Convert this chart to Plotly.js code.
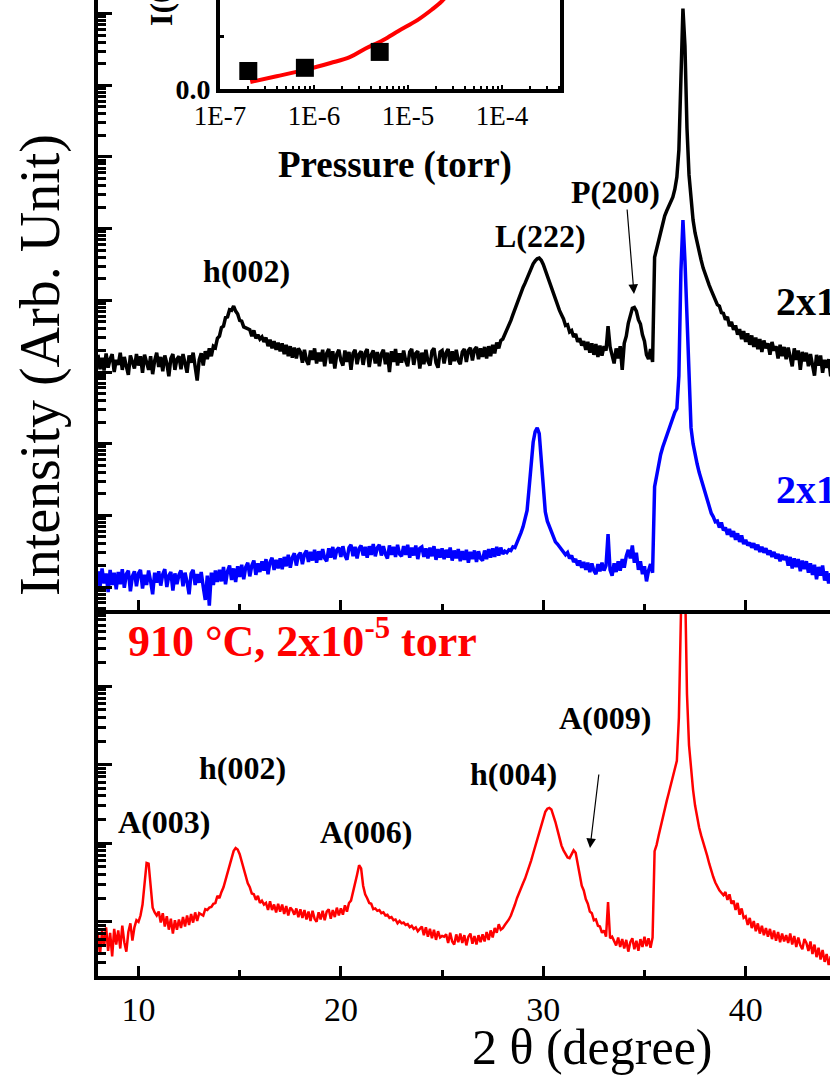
<!DOCTYPE html>
<html><head><meta charset="utf-8">
<script src="https://cdn.plot.ly/plotly-3.0.1.min.js"></script>
<style>html,body{margin:0;padding:0;background:#fff;overflow:hidden}#chart{width:830px;height:1075px}</style>
</head><body><div id="chart"></div><script>
// ---- XRD scans: 2theta grid start / step (degrees) ----
const scanStart = 8.0;
const scanStep = 0.1;

// log10 intensity (arb.), black scan (top panel)
const black_log10I = [
4.24,4.04,4.20,4.02,4.26,4.06,4.18,4.25,4.00,4.17,
4.10,4.27,4.03,4.21,4.08,3.96,4.23,4.12,4.05,4.25,
4.09,4.22,3.99,4.24,4.11,4.03,4.22,3.97,4.16,4.27,
4.07,4.21,4.01,4.23,4.12,3.94,4.19,4.25,4.03,4.18,
4.22,4.04,4.25,4.10,3.99,4.23,4.13,4.27,4.06,3.88,
4.17,4.26,4.09,4.29,4.18,4.33,4.22,4.36,4.34,4.47,
4.50,4.62,4.64,4.76,4.77,4.87,4.86,4.92,4.85,4.81,
4.72,4.71,4.63,4.62,4.60,4.59,4.50,4.58,4.47,4.52,
4.46,4.49,4.42,4.48,4.36,4.45,4.33,4.43,4.31,4.41,
4.29,4.40,4.25,4.38,4.22,4.36,4.20,4.34,4.19,4.33,
4.28,4.13,4.31,4.16,4.10,4.30,4.17,4.33,4.12,4.27,
4.15,4.31,4.08,4.26,4.32,4.12,4.29,4.05,4.25,4.31,
4.16,4.09,4.30,4.14,4.28,4.03,4.26,4.31,4.11,4.25,
4.29,4.10,4.27,4.32,4.07,4.24,4.30,4.12,4.28,4.08,
4.25,4.31,4.11,4.27,4.00,4.29,4.14,4.32,4.09,4.26,
4.13,4.30,4.16,4.08,4.28,4.32,4.10,4.26,4.29,4.05,
4.27,4.11,4.31,4.15,4.09,4.29,4.33,4.13,4.06,4.28,
4.30,4.12,4.27,4.32,4.10,4.29,4.15,4.31,4.16,4.11,
4.28,4.32,4.14,4.30,4.34,4.16,4.31,4.35,4.18,4.33,
4.21,4.35,4.19,4.36,4.22,4.38,4.26,4.41,4.33,4.44,
4.46,4.52,4.58,4.65,4.72,4.80,4.88,4.96,5.04,5.11,
5.18,5.24,5.31,5.38,5.45,5.51,5.55,5.58,5.59,5.56,
5.50,5.42,5.34,5.25,5.16,5.07,4.99,4.92,4.86,4.80,
4.74,4.65,4.66,4.56,4.58,4.49,4.53,4.42,4.47,4.37,
4.43,4.31,4.42,4.27,4.40,4.24,4.39,4.21,4.37,4.23,
4.36,4.30,4.64,4.35,4.22,4.12,4.33,4.19,4.36,4.03,
4.40,4.50,4.68,4.79,4.89,4.90,4.85,4.73,4.67,4.52,
4.43,4.24,4.18,4.32,4.14,5.60,5.72,5.85,5.98,6.10,
6.18,6.25,6.31,6.37,6.44,6.55,6.72,7.10,8.10,9.07,
8.55,7.40,6.75,6.35,6.12,5.94,5.80,5.68,5.56,5.45,
5.36,5.28,5.21,5.14,5.07,5.03,4.94,4.92,4.83,4.82,
4.73,4.77,4.64,4.70,4.59,4.65,4.52,4.60,4.46,4.57,
4.42,4.54,4.38,4.51,4.35,4.48,4.32,4.46,4.28,4.44,
4.33,4.40,4.24,4.42,4.30,4.36,4.19,4.38,4.22,4.35,
4.18,4.34,4.23,4.08,4.33,4.17,4.30,4.03,4.28,4.15,
4.27,4.08,4.25,4.12,3.95,4.24,4.09,4.23,3.99,4.17,
4.06,4.18,3.94,4.11];

// log10 intensity (arb.), blue scan (top panel)
const blue_log10I = [
1.22,1.00,1.26,1.05,1.19,0.93,1.24,1.03,1.20,0.97,
1.21,1.04,1.25,0.99,1.18,1.23,0.94,1.15,1.22,1.01,
1.19,1.24,0.98,1.17,1.03,1.23,1.08,0.90,1.20,1.06,
1.22,1.02,1.18,1.25,1.00,1.16,1.21,0.95,1.19,1.04,
1.17,1.23,1.01,1.20,1.07,0.90,1.19,1.24,1.03,1.18,
1.06,1.21,1.00,0.82,1.16,0.74,1.20,1.03,1.23,1.07,
1.24,1.08,1.28,1.04,1.22,1.30,1.10,1.26,1.07,1.29,
1.14,1.31,1.11,1.28,1.34,1.15,1.30,1.37,1.17,1.33,
1.21,1.36,1.23,1.39,1.18,1.35,1.41,1.24,1.38,1.26,
1.40,1.25,1.42,1.29,1.45,1.27,1.41,1.47,1.30,1.44,
1.48,1.32,1.46,1.51,1.35,1.49,1.37,1.52,1.34,1.50,
1.38,1.53,1.40,1.36,1.54,1.41,1.56,1.39,1.52,1.55,
1.42,1.57,1.44,1.38,1.55,1.59,1.43,1.56,1.40,1.54,
1.58,1.44,1.56,1.41,1.57,1.45,1.60,1.43,1.55,1.59,
1.44,1.57,1.46,1.40,1.58,1.45,1.56,1.42,1.59,1.46,
1.43,1.57,1.45,1.59,1.41,1.55,1.44,1.58,1.39,1.54,
1.56,1.42,1.54,1.40,1.55,1.43,1.57,1.38,1.53,1.41,
1.54,1.39,1.52,1.41,1.55,1.37,1.51,1.40,1.53,1.36,
1.50,1.38,1.52,1.34,1.49,1.39,1.51,1.35,1.50,1.40,
1.37,1.51,1.39,1.53,1.41,1.54,1.42,1.56,1.44,1.55,
1.46,1.50,1.48,1.52,1.51,1.56,1.55,1.62,1.66,1.76,
1.84,1.95,2.07,2.38,2.73,3.02,3.17,3.22,3.14,2.75,
2.35,2.05,1.92,1.84,1.76,1.70,1.63,1.60,1.56,1.53,
1.50,1.45,1.48,1.40,1.44,1.35,1.39,1.30,1.37,1.27,
1.35,1.24,1.34,1.21,1.33,1.23,1.18,1.32,1.22,1.34,
1.23,1.30,1.74,1.24,1.16,1.33,1.21,1.36,1.23,1.39,
1.27,1.43,1.52,1.40,1.58,1.34,1.48,1.24,1.36,1.18,
1.29,1.08,1.23,1.32,1.20,2.40,2.55,2.72,2.85,2.95,
3.03,3.12,3.22,3.30,3.38,3.44,3.49,3.95,5.40,6.12,
5.55,4.75,3.70,3.22,3.00,2.84,2.72,2.60,2.50,2.40,
2.30,2.20,2.10,2.03,1.98,1.91,1.92,1.83,1.90,1.79,
1.83,1.73,1.81,1.70,1.78,1.66,1.75,1.63,1.72,1.60,
1.66,1.58,1.62,1.55,1.61,1.52,1.59,1.49,1.56,1.48,
1.54,1.45,1.51,1.42,1.49,1.40,1.46,1.36,1.45,1.38,
1.43,1.30,1.42,1.26,1.40,1.28,1.39,1.22,1.37,1.25,
1.36,1.20,1.33,1.17,1.31,1.11,1.28,1.16,1.30,1.09,
1.22,1.05,1.19,1.03];

// log10 intensity (arb.), red scan (bottom panel, 910 C, 2x10^-5 torr)
const red_log10I = [
0.84,0.58,0.88,0.68,0.93,0.63,0.86,0.56,0.91,0.71,
0.89,0.66,0.95,0.74,0.62,0.87,0.98,0.76,0.93,1.02,
1.00,1.08,1.22,1.48,1.75,1.74,1.40,1.18,1.12,1.08,
1.13,0.99,1.11,0.94,1.07,0.90,1.04,0.85,1.02,0.90,
1.03,0.92,1.06,0.94,1.08,0.96,1.10,0.99,1.12,1.01,
1.11,1.09,1.08,1.16,1.15,1.18,1.19,1.23,1.24,1.33,
1.30,1.38,1.44,1.53,1.62,1.72,1.82,1.90,1.94,1.92,
1.86,1.77,1.66,1.56,1.49,1.44,1.36,1.35,1.28,1.33,
1.24,1.27,1.22,1.24,1.15,1.26,1.15,1.22,1.12,1.23,
1.13,1.22,1.10,1.20,1.08,1.18,1.15,1.09,1.17,1.06,
1.16,1.05,1.15,1.03,1.13,1.01,1.14,1.04,1.00,1.12,
1.03,1.14,1.02,1.13,1.16,1.04,1.15,1.06,1.18,1.08,
1.17,1.09,1.21,1.13,1.24,1.27,1.38,1.45,1.60,1.72,
1.68,1.46,1.35,1.30,1.24,1.23,1.16,1.17,1.14,1.15,
1.11,1.12,1.08,1.09,1.05,1.06,1.02,1.03,0.98,1.01,
0.98,0.99,0.96,0.97,0.93,0.95,0.91,0.93,0.88,0.91,
0.94,0.83,0.93,0.81,0.91,0.79,0.90,0.77,0.88,0.80,
0.82,0.81,0.84,0.73,0.86,0.75,0.71,0.84,0.74,0.85,
0.73,0.83,0.70,0.81,0.85,0.72,0.82,0.71,0.83,0.74,
0.84,0.75,0.87,0.77,0.89,0.80,0.92,0.86,0.97,0.90,
0.92,0.96,0.99,1.03,1.08,1.14,1.22,1.30,1.37,1.43,
1.49,1.55,1.62,1.70,1.78,1.87,1.96,2.05,2.15,2.24,
2.32,2.40,2.44,2.45,2.43,2.36,2.27,2.17,2.06,1.97,
1.91,1.86,1.82,1.81,1.86,1.91,1.88,1.73,1.58,1.46,
1.40,1.29,1.23,1.13,1.11,1.02,1.03,0.95,0.94,0.86,
0.89,0.81,1.25,0.79,0.81,0.76,0.70,0.80,0.68,0.78,
0.66,0.77,0.62,0.74,0.79,0.65,0.76,0.63,0.78,0.68,
0.81,0.69,0.79,0.67,0.80,1.90,1.98,2.10,2.22,2.33,
2.44,2.54,2.64,2.74,2.84,2.93,3.05,3.60,4.40,6.20,
5.40,3.90,3.25,2.92,2.68,2.48,2.32,2.20,2.10,2.02,
1.95,1.84,1.74,1.64,1.57,1.50,1.44,1.40,1.37,1.34,
1.38,1.28,1.35,1.23,1.27,1.15,1.24,1.09,1.17,1.05,
1.07,0.96,1.05,0.92,1.01,0.88,0.98,0.85,0.95,0.83,
0.92,0.81,0.91,0.78,0.89,0.76,0.87,0.74,0.85,0.75,
0.83,0.73,0.85,0.71,0.82,0.68,0.80,0.70,0.65,0.78,
0.73,0.63,0.75,0.59,0.71,0.55,0.67,0.52,0.64,0.49,
0.59,0.45,0.56,0.42];

// ---- Inset: intensity ratio vs pressure ----
const inset_pressure = [2e-7, 8e-7, 5e-6];
const inset_ratio = [0.17, 0.20, 0.35];
const fit_pressure = [2.1e-7, 4e-7, 8e-7, 1.5e-6, 2.4e-6, 3.5e-6, 5.4e-6, 8e-6, 1.26e-5, 1.8e-5, 2.3e-5, 3.0e-5];
const fit_ratio = [0.066, 0.12, 0.18, 0.245, 0.30, 0.38, 0.46, 0.55, 0.65, 0.75, 0.83, 0.95];

const xTickVals = [10, 20, 30, 40];
const xTickText = ['10', '20', '30', '40'];
const insetTickVals = [1e-7, 1e-6, 1e-5, 1e-4];
const insetTickText = ['1E-7', '1E-6', '1E-5', '1E-4'];

// ---- geometry helpers (pixel -> paper) ----
const W = 830, H = 1075, ML = 98, MR = 0, MT = 0, MB = 99;
const PW = W - ML - MR, PH = H - MT - MB;
const px = x => (x - ML) / PW;
const py = y => (H - MB - y) / PH;

const pow10 = a => a.map(v => Math.pow(10, v));
function decades(lo, hi) { const t = []; for (let n = lo; n <= hi; n++) t.push(Math.pow(10, n)); return t; }
function minors(lo, hi) { const t = []; for (let n = lo; n <= hi; n++) for (let k = 2; k <= 9; k++) t.push(k * Math.pow(10, n)); return t; }

const FONT = 'Liberation Serif';

const traces = [
  { type: 'scatter', mode: 'lines', x0: scanStart, dx: scanStep, y: pow10(black_log10I),
    line: { color: '#000000', width: 3.5 }, xaxis: 'x2', yaxis: 'y2', hoverinfo: 'skip' },
  { type: 'scatter', mode: 'lines', x0: scanStart, dx: scanStep, y: pow10(blue_log10I),
    line: { color: '#0000ff', width: 3.5 }, xaxis: 'x2', yaxis: 'y2', hoverinfo: 'skip' },
  { type: 'scatter', mode: 'lines', x0: scanStart, dx: scanStep, y: pow10(red_log10I),
    line: { color: '#ff0000', width: 2.5 }, xaxis: 'x', yaxis: 'y', hoverinfo: 'skip' },
  { type: 'scatter', mode: 'lines', x: fit_pressure, y: fit_ratio,
    line: { color: '#ff0000', width: 4, shape: 'spline' }, xaxis: 'x3', yaxis: 'y3', hoverinfo: 'skip' },
  { type: 'scatter', mode: 'markers', x: inset_pressure, y: inset_ratio,
    marker: { symbol: 'square', size: 18, color: '#000000' }, xaxis: 'x3', yaxis: 'y3', hoverinfo: 'skip' }
];

const xCommon = {
  range: [8, 8 + PW / 20.24], showline: true, linewidth: 4, linecolor: '#000',
  ticks: 'inside', ticklen: 10, tickwidth: 3, tickcolor: '#000',
  tickmode: 'array', tickvals: xTickVals, ticktext: xTickText,
  minor: { ticks: 'inside', tickmode: 'array', tickvals: [15, 25, 35], ticklen: 6, tickwidth: 3, tickcolor: '#000' },
  showgrid: false, zeroline: false, fixedrange: true
};
const yCommon = {
  type: 'log', showline: true, linewidth: 4, linecolor: '#000',
  ticks: 'inside', ticklen: 14, tickwidth: 3, tickcolor: '#000',
  showticklabels: false, showgrid: false, zeroline: false, fixedrange: true, tickmode: 'array'
};

const arrowStyle = { showarrow: true, arrowhead: 2, arrowsize: 1.6, arrowwidth: 1.2, arrowcolor: '#000', text: '' };
function label(x, y, text, size, color, xanchor) {
  return { xref: 'paper', yref: 'paper', x: px(x), y: py(y), text: text, showarrow: false,
    xanchor: xanchor || 'center', yanchor: 'middle', font: { family: FONT, size: size, color: color || '#000' } };
}

const layout = {
  width: W, height: H,
  margin: { l: ML, r: MR, t: MT, b: MB, pad: 0 },
  paper_bgcolor: '#fff', plot_bgcolor: 'rgba(0,0,0,0)',
  showlegend: false,
  font: { family: FONT, color: '#000' },
  xaxis: Object.assign({}, xCommon, { domain: [0, 1], anchor: 'y', showticklabels: true,
    tickfont: { family: FONT, size: 34, color: '#000' } }),
  yaxis: Object.assign({}, yCommon, { domain: [0, py(610)], anchor: 'x', range: [0.31, 4.97],
    tickvals: decades(1, 4), minor: { ticks: 'inside', tickmode: 'array', tickvals: minors(0, 4), ticklen: 8, tickwidth: 3, tickcolor: '#000' } }),
  xaxis2: Object.assign({}, xCommon, { domain: [0, 1], anchor: 'y2', showticklabels: false }),
  yaxis2: Object.assign({}, yCommon, { domain: [py(610), 1], anchor: 'x2', range: [0.68, 9.19],
    tickvals: decades(1, 9), minor: { ticks: 'inside', tickmode: 'array', tickvals: minors(0, 9), ticklen: 8, tickwidth: 3, tickcolor: '#000' } }),
  xaxis3: { domain: [px(220), px(560)], anchor: 'y3', type: 'log', range: [-7, -7 + 340 / 94],
    showline: true, linewidth: 4, linecolor: '#000', ticks: 'inside', ticklen: 4, tickwidth: 2, tickcolor: '#000',
    tickmode: 'array', tickvals: insetTickVals, ticktext: insetTickText,
    minor: { ticks: 'inside', tickmode: 'array', tickvals: minors(-7, -4), ticklen: 3, tickwidth: 2, tickcolor: '#000' },
    tickfont: { family: FONT, size: 27, color: '#000' }, showgrid: false, zeroline: false, fixedrange: true },
  yaxis3: { domain: [py(89), 1], anchor: 'x3', range: [0, 0.84], showline: true, mirror: true,
    linewidth: 4, linecolor: '#000', ticks: 'inside', ticklen: 4, tickwidth: 2, tickcolor: '#000',
    tickmode: 'array', tickvals: [0, 1.0], ticktext: ['0.0', '1.0'],
    minor: { ticks: 'inside', tickmode: 'array', tickvals: [0.5], ticklen: 4, tickwidth: 3, tickcolor: '#000' },
    tickfont: { family: FONT, size: 28, color: '#000', weight: 'bold' }, showgrid: false, zeroline: false, fixedrange: true },
  annotations: [
    // axis titles
    Object.assign(label(40, 365, 'Intensity (Arb. Unit)', 56), { textangle: -90 }),
    label(592, 1047, '2 θ (degree)', 50),
    // inset titles
    label(395, 165, '<b>Pressure (torr)</b>', 37),
    Object.assign(label(161, 28, '<b>I(003)/I(002)</b>', 32), { textangle: -90, yanchor: 'bottom' }),
    // top panel peak labels
    label(246, 271, '<b>h(002)</b>', 32),
    label(540, 236, '<b>L(222)</b>', 32),
    label(615, 192, '<b>P(200)</b>', 32),
    Object.assign({ xref: 'paper', yref: 'paper', x: px(634), y: py(294), ax: -7, ay: -86 }, arrowStyle),
    // sample labels (cut at the right edge)
    label(774, 298, '<b>2x10<sup>-7</sup> torr</b>', 40, '#000', 'left'),
    label(774, 486, '<b>2x10<sup>-6</sup> torr</b>', 40, '#0000ff', 'left'),
    // bottom panel
    label(126, 638, '<b>910 °C, 2x10<sup>-5</sup> torr</b>', 44, '#ff0000', 'left'),
    label(242, 768, '<b>h(002)</b>', 32),
    label(164, 822, '<b>A(003)</b>', 32),
    label(366, 832, '<b>A(006)</b>', 32),
    label(513, 774, '<b>h(004)</b>', 32),
    label(605, 718, '<b>A(009)</b>', 32),
    Object.assign({ xref: 'paper', yref: 'paper', x: px(590), y: py(848), ax: 9, ay: -75 }, arrowStyle)
  ]
};

Plotly.newPlot('chart', traces, layout, { displayModeBar: false, staticPlot: true });
</script></body></html>
